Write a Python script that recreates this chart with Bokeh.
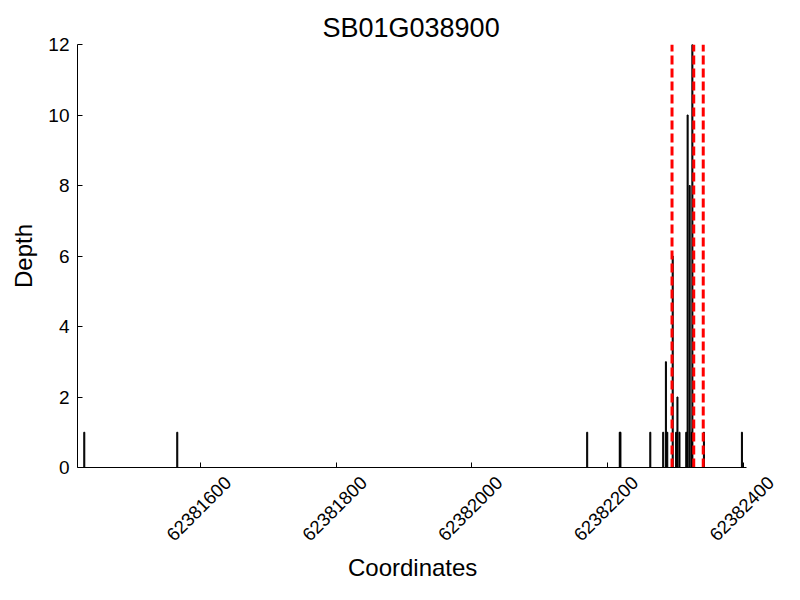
import math
from bokeh.plotting import figure
from bokeh.models import FixedTicker, Range1d, LinearAxis
from bokeh.embed import file_html
from bokeh.resources import INLINE

title_text = "SB01G038900"
x_label = "Coordinates"
y_label = "Depth"
positions = [62381429, 62381566, 62382170, 62382218, 62382219, 62382263, 62382282,
             62382286, 62382288, 62382296, 62382301, 62382303, 62382306, 62382316,
             62382318, 62382321, 62382324, 62382325, 62382342, 62382398]
depths = [1, 1, 1, 1, 1, 1, 1,
          3, 1, 6, 1, 2, 1, 1,
          10, 8, 1, 12, 1, 1]
red_lines = [62382295, 62382327, 62382341]
x_ticks = [62381600, 62381800, 62382000, 62382200, 62382400]
y_ticks = [0, 2, 4, 6, 8, 10, 12]

X_START, X_END = 62381419, 62382405   # visible axis extent
X_PAD = 41                             # room on the right for the last rotated label
LABEL_SHIFT = 40.5                     # rotated labels centred on their tick
LABEL_PAD = "\u00a0" * 4               # re-centres the x-axis title under the visible axis

p = figure(width=784, height=584, output_backend="svg", toolbar_location=None,
           x_range=Range1d(X_START, X_END + X_PAD), y_range=Range1d(0, 12),
           min_border_left=77, min_border_right=10, min_border_top=44, min_border_bottom=117)

p.vbar(x=positions, top=depths, bottom=0, width=1.5, fill_color="black", line_color="black", line_width=1)
for xr in red_lines:
    p.segment(x0=[xr], y0=[0], x1=[xr], y1=[12], line_color="red", line_width=3, line_dash="9 4")

p.title.text = title_text
p.title.align = "left"
p.title.text_font = "Liberation Sans"
p.title.text_font_size = "27px"
p.title.text_font_style = "normal"
p.title.text_color = "black"
p.title.offset = 245
p.title.standoff = 4

p.grid.visible = False
p.outline_line_color = None

for ax in (p.xaxis[0], p.yaxis[0]):
    ax.axis_line_color = "black"
    ax.major_tick_in = 5
    ax.major_tick_out = 0
    ax.minor_tick_in = 0
    ax.minor_tick_out = 0
    ax.major_label_text_font = "Liberation Sans"
    ax.major_label_text_font_size = "19px"
    ax.major_label_text_color = "black"
    ax.axis_label_text_font = "Liberation Sans"
    ax.axis_label_text_font_size = "24px"
    ax.axis_label_text_font_style = "normal"
    ax.axis_label_text_color = "black"

# main x axis: line and inward tick marks
xa = p.xaxis[0]
xa.ticker = FixedTicker(ticks=x_ticks)
xa.bounds = (X_START, X_END)
xa.major_label_overrides = {t: "" for t in x_ticks}
xa.major_label_standoff = 0

# label axis carrying the rotated tick labels
shifted = [t + LABEL_SHIFT for t in x_ticks]
la = LinearAxis(ticker=FixedTicker(ticks=shifted),
                bounds=(X_START, X_END),
                major_label_overrides={s: str(t) for s, t in zip(shifted, x_ticks)},
                axis_line_color=None, major_tick_line_color=None, minor_tick_line_color=None,
                major_tick_in=0, major_tick_out=0, minor_tick_in=0, minor_tick_out=0,
                major_label_orientation=math.pi / 4, major_label_standoff=12,
                major_label_text_font="Liberation Sans", major_label_text_font_size="18.5px",
                major_label_text_color="black",
                axis_label=x_label + LABEL_PAD, axis_label_text_font="Liberation Sans",
                axis_label_text_font_size="24px", axis_label_text_font_style="normal",
                axis_label_text_color="black", axis_label_standoff=4)
p.add_layout(la, "below")

ya = p.yaxis[0]
ya.ticker = FixedTicker(ticks=y_ticks)
ya.axis_label = y_label
ya.major_label_standoff = 8
ya.axis_label_standoff = 8

open("out.html", "w").write(file_html(p, INLINE))
